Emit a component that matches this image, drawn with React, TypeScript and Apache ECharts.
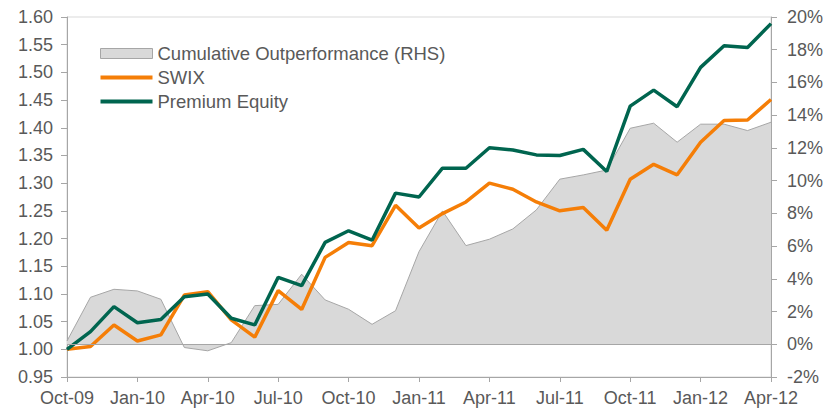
import React, { useEffect, useRef } from "react";
import * as echarts from "echarts";

const categories = [
  "Oct-09", "Nov-09", "Dec-09", "Jan-10", "Feb-10", "Mar-10", "Apr-10", "May-10", "Jun-10",
  "Jul-10", "Aug-10", "Sep-10", "Oct-10", "Nov-10", "Dec-10", "Jan-11", "Feb-11", "Mar-11",
  "Apr-11", "May-11", "Jun-11", "Jul-11", "Aug-11", "Sep-11", "Oct-11", "Nov-11", "Dec-11",
  "Jan-12", "Feb-12", "Mar-12", "Apr-12",
];

const outperformance = [
  0.2, 2.87, 3.36, 3.26, 2.75, -0.2, -0.4, 0.1, 2.36, 2.44, 4.28, 2.71, 2.14, 1.22, 2.05,
  5.66, 8.15, 6.03, 6.42, 7.05, 8.21, 10.09, 10.35, 10.65, 13.2, 13.51, 12.35, 13.45, 13.45,
  13.06, 13.57,
];

const swix = [
  1.0, 1.005, 1.044, 1.015, 1.026, 1.098, 1.104, 1.053, 1.022, 1.106, 1.072, 1.166, 1.193,
  1.187, 1.26, 1.219, 1.245, 1.266, 1.3, 1.289, 1.266, 1.25, 1.256, 1.215, 1.307, 1.334,
  1.315, 1.374, 1.413, 1.414, 1.451,
];

const premiumEquity = [
  1.0, 1.032, 1.077, 1.048, 1.054, 1.095, 1.1, 1.056, 1.044, 1.13, 1.115, 1.193, 1.214,
  1.197, 1.282, 1.275, 1.327, 1.327, 1.364, 1.36, 1.351, 1.35, 1.361, 1.321, 1.439, 1.468,
  1.438, 1.509, 1.548, 1.545, 1.588,
];

const FONT = "Liberation Sans, Arial, sans-serif";
const TEXT = "#595959";
const AXIS = "#a6a6a6";
const ORANGE = "#f57e07";
const GREEN = "#00654f";
const LINE_ICON = "path://M0,0 L52,0 L52,4 L0,4 Z";

export default function App() {
  const ref = useRef<HTMLDivElement>(null);
  useEffect(() => {
    if (!ref.current) return;
    const chart = echarts.init(ref.current, null, { renderer: "svg" });
    chart.setOption({
      animation: false,
      backgroundColor: "#ffffff",
      textStyle: { fontFamily: FONT },
      grid: {
        left: 67,
        right: 65,
        top: 17,
        bottom: 35,
        show: true,
        borderColor: "#d9d9d9",
        borderWidth: 1,
      },
      legend: {
        orient: "vertical",
        left: 100,
        top: 44,
        padding: 0,
        itemWidth: 52,
        itemHeight: 10,
        itemGap: 5,
        textStyle: { color: TEXT, fontSize: 18.5, fontFamily: FONT },
        data: [
          {
            name: "Cumulative Outperformance (RHS)",
            icon: "rect",
            itemStyle: { color: "#d9d9d9", borderColor: AXIS, borderWidth: 1 },
          },
          { name: "SWIX", icon: LINE_ICON, itemStyle: { color: ORANGE, borderWidth: 0 } },
          { name: "Premium Equity", icon: LINE_ICON, itemStyle: { color: GREEN, borderWidth: 0 } },
        ],
      },
      xAxis: {
        type: "category",
        data: categories,
        boundaryGap: false,
        axisLine: { onZero: false, lineStyle: { color: AXIS, width: 1 } },
        axisTick: { show: true, interval: 2, length: 5, lineStyle: { color: AXIS } },
        axisLabel: {
          interval: 2,
          color: TEXT,
          fontSize: 18,
          fontFamily: FONT,
          margin: 12,
        },
        splitLine: { show: false },
      },
      yAxis: [
        {
          type: "value",
          min: 0.95,
          max: 1.6,
          interval: 0.05,
          axisLine: { show: true, lineStyle: { color: AXIS } },
          axisTick: { show: true, length: 6, lineStyle: { color: AXIS } },
          axisLabel: {
            color: TEXT,
            fontSize: 18,
            fontFamily: FONT,
            margin: 14,
            formatter: (v: number) => v.toFixed(2),
          },
          splitLine: { show: false },
        },
        {
          type: "value",
          min: -2,
          max: 20,
          interval: 2,
          position: "right",
          axisLine: { show: true, lineStyle: { color: AXIS } },
          axisTick: { show: true, length: 6, lineStyle: { color: AXIS } },
          axisLabel: {
            color: TEXT,
            fontSize: 18,
            fontFamily: FONT,
            margin: 16,
            formatter: "{value}%",
          },
          splitLine: { show: false },
        },
      ],
      series: [
        {
          name: "Cumulative Outperformance (RHS)",
          type: "line",
          yAxisIndex: 1,
          data: outperformance,
          symbol: "none",
          lineStyle: { color: AXIS, width: 1 },
          itemStyle: { color: "#d9d9d9" },
          areaStyle: { color: "#d9d9d9", opacity: 1 },
          markLine: {
            silent: true,
            symbol: "none",
            label: { show: false },
            lineStyle: { color: AXIS, width: 1, type: "solid" },
            data: [{ yAxis: 0 }],
          },
          z: 1,
        },
        {
          name: "SWIX",
          type: "line",
          yAxisIndex: 0,
          data: swix,
          symbol: "none",
          lineStyle: { color: ORANGE, width: 3.5 },
          itemStyle: { color: ORANGE },
          z: 3,
        },
        {
          name: "Premium Equity",
          type: "line",
          yAxisIndex: 0,
          data: premiumEquity,
          symbol: "none",
          lineStyle: { color: GREEN, width: 3.5 },
          itemStyle: { color: GREEN },
          z: 4,
        },
      ],
    });
    return () => chart.dispose();
  }, []);
  return <div ref={ref} style={{ width: 836, height: 412, position: "absolute", left: 0, top: 0 }} />;
}
